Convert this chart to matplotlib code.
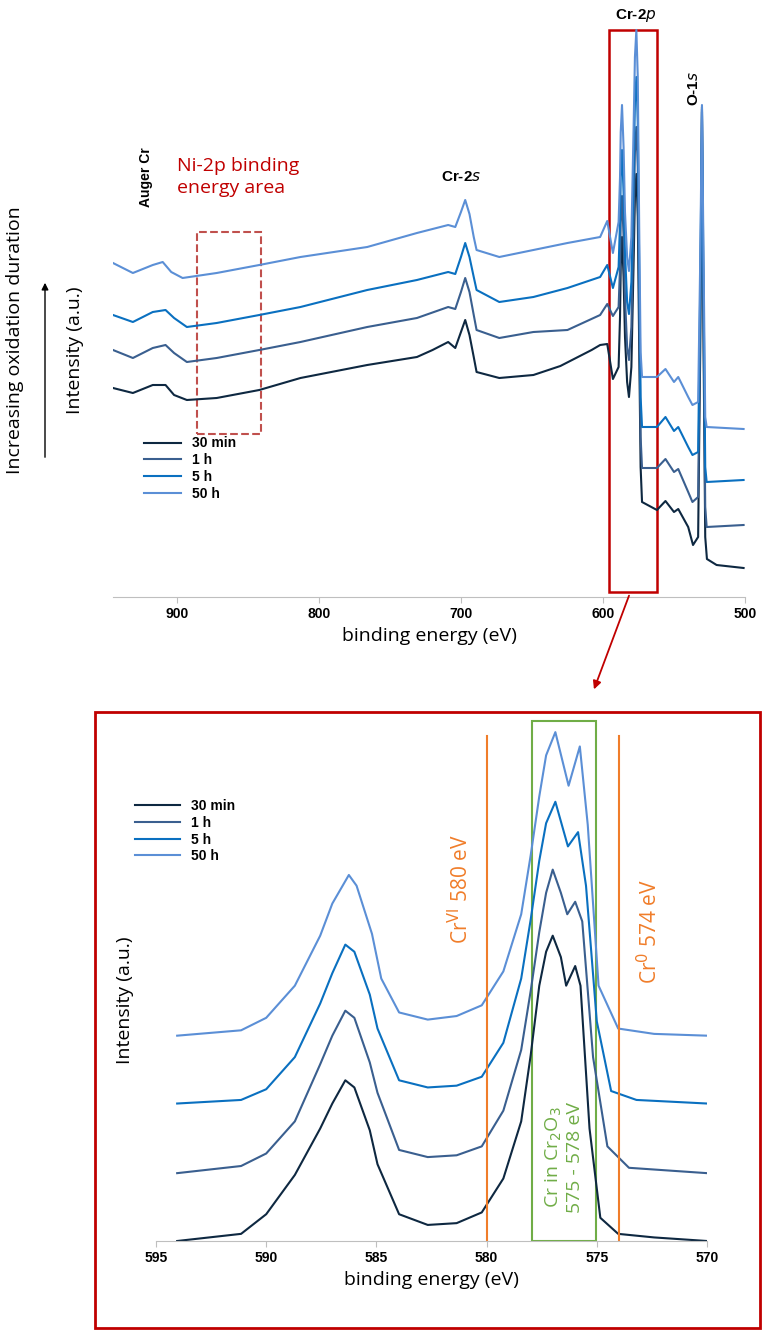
import matplotlib
matplotlib.use("Agg")
import matplotlib.pyplot as plt
from matplotlib.patches import Rectangle, FancyArrowPatch

# ===== survey spectra (binding energy eV, intensity a.u.) =====
e_30min = [945, 931, 917, 908, 902, 893, 872, 842, 813, 766, 731, 720, 709, 704, 700, 697, 694, 691, 689,
           673, 649, 630, 608, 602, 597, 593, 589, 588, 587.5, 586.6, 585.5, 584.5, 583, 581.7, 580, 578.5,
           577.5, 576.5, 575.5, 574.5, 573.5, 572.5, 562, 556, 550, 547, 540, 536.6, 533, 531.5, 530.3,
           529.2, 528, 526.8, 520, 501]
i_30min = [209, 204, 212, 212, 202, 197, 199, 207, 219, 232, 240, 247, 255, 249, 265, 277, 262, 240, 225,
           219, 222, 231, 247, 252, 253, 218, 230, 280, 330, 360, 320, 260, 215, 200, 230, 330,
           400, 423, 380, 250, 130, 95, 87, 96, 85, 88, 70, 52, 60, 250, 490,
           250, 60, 38, 32, 29]

e_1h = [945, 931, 917, 908, 902, 893, 872, 842, 813, 766, 731, 709, 704, 700, 697, 694, 691, 689,
        673, 649, 625, 602, 597, 593, 589, 588, 587.5, 586.6, 585.5, 584.5, 583, 581.7, 580, 578.5,
        577.5, 576.5, 575.5, 574.5, 573.5, 572.5, 562, 556, 550, 547, 540, 537, 533, 531.5, 530.3,
        529.2, 528, 527, 501]
i_1h = [247, 239, 249, 252, 244, 235, 239, 247, 255, 270, 279, 290, 288, 305, 319, 305, 282, 267,
        259, 265, 267, 282, 293, 281, 290, 330, 375, 401, 360, 300, 250, 237, 270, 370,
        445, 470, 430, 290, 160, 129, 129, 138, 125, 128, 105, 95, 100, 280, 485,
        280, 90, 70, 72]

e_5h = [945, 931, 917, 908, 902, 893, 872, 842, 813, 766, 731, 709, 704, 700, 697, 694, 691, 689,
        673, 649, 625, 602, 597, 593, 589, 588, 587.5, 586.6, 585.5, 584.5, 583, 581.7, 580, 578.5,
        577.5, 576.5, 575.5, 574.5, 573.5, 572.5, 562, 556, 550, 547, 540, 537, 533, 531.5, 530.3,
        529.2, 528, 527, 501]
i_5h = [282, 275, 285, 287, 279, 270, 274, 282, 290, 307, 317, 325, 323, 340, 354, 340, 320, 307,
        295, 300, 309, 320, 332, 309, 330, 375, 420, 447, 405, 345, 295, 283, 315, 420,
        495, 520, 475, 330, 200, 170, 170, 180, 166, 170, 150, 142, 145, 310, 488,
        310, 130, 115, 117]

e_50h = [945, 931, 917, 910, 904, 896, 872, 842, 813, 766, 731, 709, 704, 700, 697, 694, 691, 689,
         673, 649, 625, 602, 597, 593, 589, 588, 587.5, 586.6, 585.5, 584.5, 583, 581.7, 580, 578.5,
         577.5, 576.5, 575.5, 574.5, 573.5, 572.5, 562, 556, 550, 547, 540, 537, 533, 531.5, 530.3,
         529.2, 528, 527, 501]
i_50h = [334, 324, 332, 335, 325, 319, 324, 332, 340, 350, 364, 372, 370, 385, 397, 383, 360, 347,
         340, 347, 354, 360, 376, 344, 375, 420, 465, 492, 450, 385, 340, 326, 360, 465,
         540, 567, 520, 370, 245, 220, 220, 228, 215, 220, 200, 192, 195, 340, 492,
         340, 180, 170, 168]

# ===== Cr-2p detail spectra =====
d_e = [594.04, 591.14, 590.0, 588.7, 587.55, 587.0, 586.41, 586.0, 585.3, 584.95, 583.97, 582.67, 581.36,
       580.22, 579.24, 578.43, 578.0, 577.61, 577.3, 577.0, 576.63, 576.39, 575.98, 575.74, 575.33, 574.84,
       574.03, 572.4, 570.0]
d_30min = [0, 20, 75, 185, 315, 385, 450, 430, 310, 215, 75, 45, 50,
           80, 175, 335, 520, 715, 810, 855, 795, 715, 770, 715, 315, 65,
           20, 10, 0]
d_e_1h = [594.04, 591.14, 590.0, 588.7, 587.55, 587.0, 586.41, 586.0, 585.3, 584.95, 583.97, 582.67, 581.36,
          580.22, 579.24, 578.43, 578.0, 577.61, 577.3, 577.0, 576.63, 576.34, 575.98, 575.66, 575.17, 574.52,
          573.54, 570.0]
d_1h = [190, 210, 245, 335, 495, 575, 645, 625, 500, 415, 255, 235, 240,
        265, 365, 535, 700, 865, 975, 1040, 975, 915, 950, 895, 515, 265,
        205, 190]
d_e_5h = [594.04, 591.14, 590.0, 588.7, 587.55, 587.0, 586.41, 586.0, 585.3, 584.95, 583.97, 582.67, 581.36,
          580.22, 579.24, 578.43, 578.0, 577.61, 577.3, 576.88, 576.31, 575.85, 575.49, 575.0, 574.35, 573.2,
          570.0]
d_5h = [385, 395, 425, 515, 665, 750, 830, 810, 690, 595, 450, 430, 435,
        460, 555, 735, 900, 1065, 1170, 1230, 1105, 1145, 995, 615, 420, 395,
        385]
d_e_50h = [594.04, 591.14, 590.0, 588.7, 587.55, 587.0, 586.25, 585.9, 585.2, 584.78, 583.97, 582.67, 581.36,
           580.22, 579.24, 578.43, 578.0, 577.61, 577.3, 576.88, 576.28, 575.77, 575.41, 574.92, 574.03, 572.4,
           570.0]
d_50h = [575, 590, 625, 715, 855, 945, 1025, 995, 860, 735, 640, 620, 630,
         660, 755, 915, 1080, 1245, 1360, 1425, 1275, 1385, 1165, 715, 595, 580,
         575]

labels = ["30 min", "1 h", "5 h", "50 h"]
colors = ["#0e2841", "#3a5f8f", "#0a70c0", "#5b8fd6"]

plt.rcParams['font.family'] = ['Liberation Sans', 'DejaVu Sans']
fig = plt.figure(figsize=(7.63, 13.33), dpi=100)
RED = "#c00000"
ORANGE = "#f07d2a"
GREEN = "#70ad47"

# ===== top: survey =====
ax = fig.add_axes([113 / 763, 1 - 597 / 1333, 632 / 763, 597 / 1333])
for e, i, c, l in zip([e_30min, e_1h, e_5h, e_50h], [i_30min, i_1h, i_5h, i_50h], colors, labels):
    ax.plot(e, i, color=c, lw=1.5, label=l)
ax.set_xlim(945, 500)
ax.set_ylim(0, 597)
ax.set_yticks([])
for s in ["top", "right", "left"]:
    ax.spines[s].set_visible(False)
ax.spines["bottom"].set_color("#bfbfbf")
ax.set_xticks([900, 800, 700, 600, 500])
ax.tick_params(axis="x", labelsize=10, color="#bfbfbf", length=4)
for t in ax.get_xticklabels():
    t.set_fontweight("bold")
ax.set_xlabel("binding energy (eV)", fontsize=14, family="Open Sans")
ax.legend(loc="upper left", bbox_to_anchor=(0.03, 0.29), frameon=False,
          prop={"weight": "bold", "size": 10}, handlelength=2.6, labelspacing=0.2)

ax.add_patch(Rectangle((885.9, 163), 840.8 - 885.9, 202, fill=False, ec="#c0504d", ls="--", lw=1.5))
ax.add_patch(Rectangle((595.8, 5), 562 - 595.8, 562, fill=False, ec=RED, lw=1.8, clip_on=False))
ax.text(922, 420, "Auger Cr", rotation=90, fontsize=10, fontweight="bold", ha="center", va="center")
ax.text(900, 420, "Ni-2p binding\nenergy area", color=RED, fontsize=14, family="Open Sans",
        ha="left", va="center", linespacing=1.3)
ax.text(700, 420, "Cr-2$s$", fontsize=11, fontweight="bold", ha="center", va="center")
ax.text(577, 581, "Cr-2$p$", fontsize=11, fontweight="bold", ha="center", va="center")
ax.text(536, 509, "O-1$s$", rotation=90, fontsize=11, fontweight="bold", ha="center", va="center")

fig.text(75 / 763, 1 - 350 / 1333, "Intensity (a.u.)", rotation=90, fontsize=14, family="Open Sans",
         ha="center", va="center")
fig.text(15 / 763, 1 - 340 / 1333, "Increasing oxidation duration", rotation=90, fontsize=14,
         family="Open Sans", ha="center", va="center")
fig.add_artist(FancyArrowPatch((45 / 763, 1 - 460 / 1333), (45 / 763, 1 - 280 / 1333),
                               transform=fig.transFigure, arrowstyle="-|>", mutation_scale=10,
                               color="black", lw=1))
fig.add_artist(FancyArrowPatch((630 / 763, 1 - 593 / 1333), (593 / 763, 1 - 692 / 1333),
                               transform=fig.transFigure, arrowstyle="-|>", mutation_scale=12,
                               color=RED, lw=1.3))

# ===== bottom: Cr-2p detail =====
fig.add_artist(Rectangle((95 / 763, 1 - 1328 / 1333), 665 / 763, 616 / 1333, transform=fig.transFigure,
                         fill=False, ec=RED, lw=2))
bx = fig.add_axes([156 / 763, 1 - 1241 / 1333, 551 / 763, 528.5 / 1333])
for e, i, c, l in zip([d_e, d_e_1h, d_e_5h, d_e_50h], [d_30min, d_1h, d_5h, d_50h], colors, labels):
    bx.plot(e, i, color=c, lw=1.5, label=l)
bx.set_xlim(595, 570)
bx.set_ylim(0, 1480)
bx.set_yticks([])
for s in ["top", "right", "left"]:
    bx.spines[s].set_visible(False)
bx.spines["bottom"].set_color("#bfbfbf")
bx.set_xticks([595, 590, 585, 580, 575, 570])
bx.tick_params(axis="x", labelsize=10, color="#bfbfbf", length=4)
for t in bx.get_xticklabels():
    t.set_fontweight("bold")
bx.set_xlabel("binding energy (eV)", fontsize=14, family="Open Sans")
fig.text(125 / 763, 1 - 1000 / 1333, "Intensity (a.u.)", rotation=90, fontsize=14, family="Open Sans",
         ha="center", va="center")
bx.legend(loc="upper left", bbox_to_anchor=(-0.06, 0.86), frameon=False,
          prop={"weight": "bold", "size": 10}, handlelength=3.2, labelspacing=0.2)

bx.plot([580, 580], [0, 1415], color=ORANGE, lw=1.5)
bx.plot([574, 574], [0, 1415], color=ORANGE, lw=1.5)
bx.add_patch(Rectangle((577.94, 0), 575.05 - 577.94, 1455, fill=False, ec=GREEN, lw=1.5))
bx.text(581.2, 985, "Cr$^{\\rm VI}$ 580 eV", rotation=90, color=ORANGE, fontsize=15, family="Open Sans",
        ha="center", va="center")
bx.text(572.6, 865, "Cr$^{\\rm 0}$ 574 eV", rotation=90, color=ORANGE, fontsize=15, family="Open Sans",
        ha="center", va="center")
bx.text(576.5, 235, "Cr in Cr$_{\\rm 2}$O$_{\\rm 3}$\n575 - 578 eV", rotation=90, color=GREEN, fontsize=14,
        family="Open Sans", ha="center", va="center", multialignment="center", linespacing=1.1)

fig.savefig("out.png", dpi=100)
